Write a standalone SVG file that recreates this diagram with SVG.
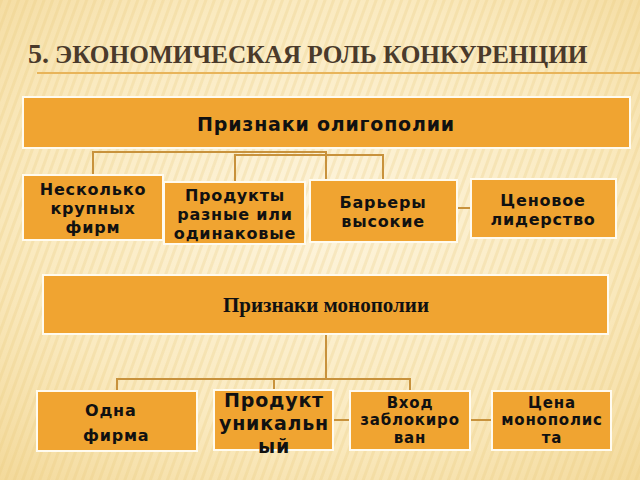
<svg xmlns="http://www.w3.org/2000/svg" width="640" height="480" viewBox="0 0 640 480">
<defs>
<radialGradient id="bg" cx="0.5" cy="0.45" r="0.75">
<stop offset="0" stop-color="#fdf4dc"/>
<stop offset="0.6" stop-color="#faeac0"/>
<stop offset="1" stop-color="#f3d99a"/>
</radialGradient>
<pattern id="stripes" width="8" height="8" patternUnits="userSpaceOnUse" patternTransform="rotate(20)">
<rect width="3" height="8" fill="#e8c878" opacity="0.25"/>
</pattern>
<style>
.box{fill:#f0a431;stroke:#fffbef;stroke-width:2}
.con{fill:none;stroke:#c8923c;stroke-width:2}
.t{font-family:"DejaVu Sans",Verdana,sans-serif;font-weight:bold;fill:#111;text-anchor:middle;letter-spacing:0.8px}
.l{text-anchor:start}
.s{font-family:"Liberation Serif","Times New Roman",serif;font-weight:bold;fill:#111;text-anchor:middle}
</style>
</defs>
<rect width="640" height="480" fill="url(#bg)"/>
<rect width="640" height="480" fill="url(#stripes)"/>
<text x="28" y="63" font-family="Liberation Serif, serif" font-weight="bold" fill="#4a3a2b"><tspan font-size="28">5.</tspan><tspan font-size="25.3" dx="6">ЭКОНОМИЧЕСКАЯ РОЛЬ КОНКУРЕНЦИИ</tspan></text>
<line x1="37" y1="73" x2="640" y2="73" stroke="#e8b45a" stroke-width="2"/>
<g id="connectors">
<path class="con" d="M93,175 V152 H326 V180"/>
<path class="con" d="M235,182 V155 H383 V180"/>
<path class="con" d="M457,208 H471"/>
<path class="con" d="M326,335 V379"/>
<path class="con" d="M117,391 V379 H410 V391"/>
<path class="con" d="M274,379 V390"/>
<path class="con" d="M333,420 H350"/>
<path class="con" d="M470,420 H492"/>
</g>
<g id="oligopoly">
<rect class="box" x="23" y="97" width="607" height="51"/>
<text class="t" x="326" y="131" font-size="19">Признаки олигополии</text>
</g>
<g id="n1">
<rect class="box" x="23" y="175" width="140" height="65"/>
<text class="t" x="93" y="195" font-size="16">Несколько</text>
<text class="t" x="93" y="214" font-size="16">крупных</text>
<text class="t" x="93" y="233" font-size="16">фирм</text>
</g>
<g id="n2">
<rect class="box" x="164" y="182" width="141" height="62"/>
<text class="t" x="235" y="201" font-size="16">Продукты</text>
<text class="t" x="235" y="220" font-size="16">разные или</text>
<text class="t" x="235" y="239" font-size="16">одинаковые</text>
</g>
<g id="n3">
<rect class="box" x="310" y="180" width="147" height="62"/>
<text class="t" x="383" y="208" font-size="16">Барьеры</text>
<text class="t" x="383" y="227" font-size="16">высокие</text>
</g>
<g id="n4">
<rect class="box" x="471" y="179" width="145" height="59"/>
<text class="t" x="543" y="206" font-size="16">Ценовое</text>
<text class="t" x="543" y="225" font-size="16">лидерство</text>
</g>
<g id="monopoly">
<rect class="box" x="43" y="275" width="565" height="59"/>
<text class="s" x="326" y="312" font-size="21">Признаки монополии</text>
</g>
<g id="m1">
<rect class="box" x="37" y="391" width="160" height="60"/>
<text class="t l" x="85" y="416" font-size="16">Одна</text>
<text class="t l" x="83" y="441" font-size="16">фирма</text>
</g>
<g id="m2">
<rect class="box" x="214" y="390" width="119" height="60"/>
<text class="t" x="274" y="407" font-size="19" letter-spacing="0.5">Продукт</text>
<text class="t" x="274" y="430" font-size="19">уникальн</text>
<text class="t" x="274" y="453" font-size="19">ый</text>
</g>
<g id="m3">
<rect class="box" x="350" y="391" width="120" height="59"/>
<text class="t" x="410" y="408" font-size="15">Вход</text>
<text class="t" x="410" y="425" font-size="15">заблокиро</text>
<text class="t" x="410" y="443" font-size="15">ван</text>
</g>
<g id="m4">
<rect class="box" x="492" y="391" width="119" height="59"/>
<text class="t" x="552" y="408" font-size="15">Цена</text>
<text class="t" x="552" y="425" font-size="15">монополис</text>
<text class="t" x="552" y="443" font-size="15">та</text>
</g>
</svg>
